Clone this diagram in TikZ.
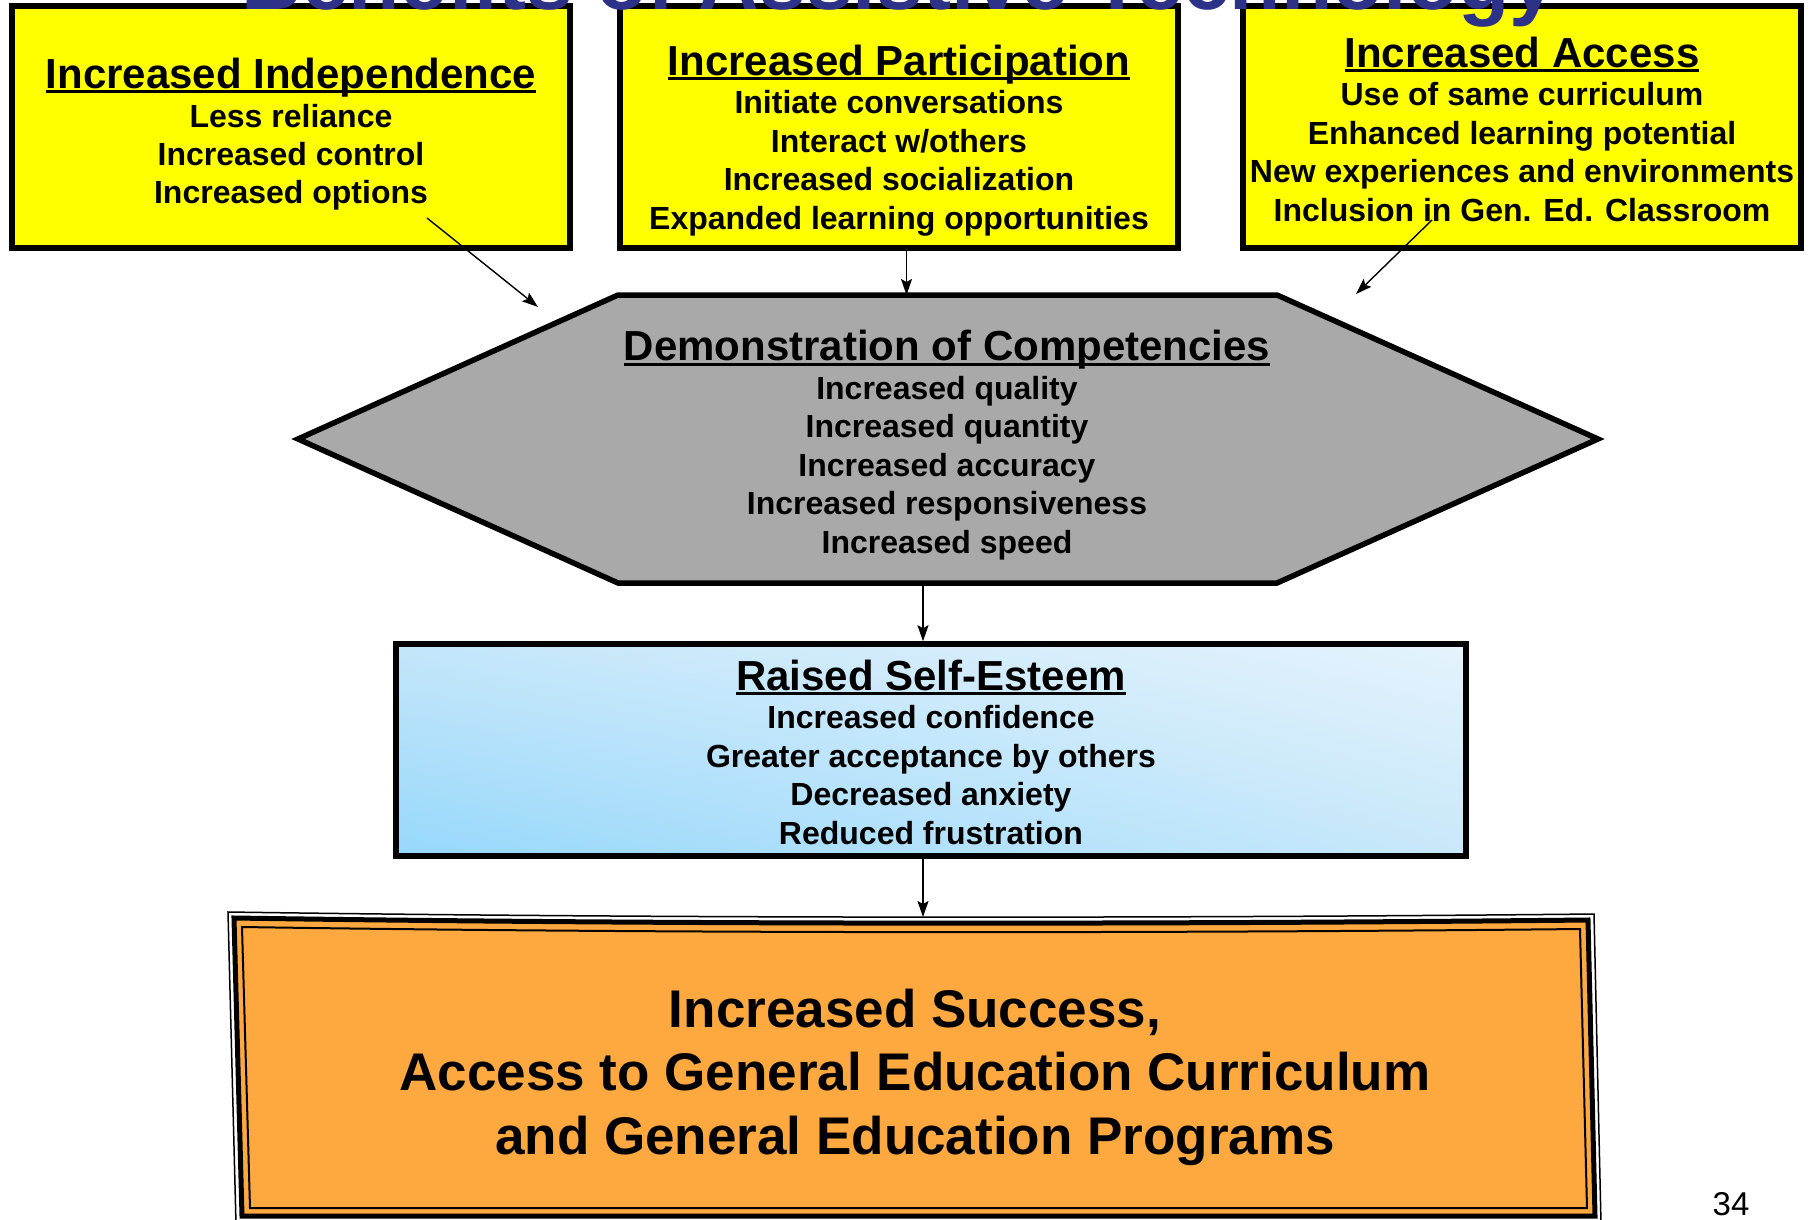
\documentclass[tikz,border=0pt]{standalone}
\usepackage{fontspec}
\setmainfont{Liberation Sans}
\usetikzlibrary{arrows.meta,shadings}
\definecolor{signyellow}{RGB}{255,255,0}
\definecolor{hexgray}{RGB}{169,169,169}
\definecolor{signorange}{RGB}{253,169,64}
\definecolor{titlenavy}{RGB}{45,49,135}
\definecolor{skyA}{RGB}{151,216,251}
\definecolor{skyB}{RGB}{196,230,250}
\definecolor{skyC}{RGB}{200,232,250}
\definecolor{skyD}{RGB}{229,243,252}
\newcommand{\headline}[1]{{\fontsize{42}{40}\selectfont\setbox0\hbox{#1}\rlap{\rule[-5pt]{\wd0}{3pt}}\box0}}
\tikzset{
  benefit/.style={draw, line width=5.5pt, fill=signyellow, minimum width=558pt, minimum height=242pt},
  blurb/.style={align=center, anchor=base, font=\bfseries\fontsize{32}{38.5}\selectfont},
  arr/.style={line width=1.4pt, -{Stealth[length=16pt,width=11pt,inset=3pt]}}
}
\begin{document}
\begin{tikzpicture}[x=1pt,y=-1pt]
  \useasboundingbox (0,0) rectangle (1813,1220);
  % three benefits (text placed by its last line)
  \node[benefit] (indepbox) at (291,127) {};
  \node[benefit] (partbox) at (899,127) {};
  \node[benefit] (accessbox) at (1522,127) {};
  \node[blurb] (indep) at (291,204) {\headline{Increased Independence}\\Less reliance\\Increased control\\Increased options};
  \node[blurb] (part) at (899,229) {\headline{Increased Participation}\\Initiate conversations\\Interact w/others\\Increased socialization\\Expanded learning opportunities};
  \node[blurb] (access) at (1522,221) {\headline{Increased Access}\\Use of same curriculum\\Enhanced learning potential\\New experiences and environments\\Inclusion in Gen. Ed. Classroom};
  % competencies
  \node[minimum width=659pt, minimum height=288pt, inner sep=0pt, outer sep=0pt] (comp) at (947.5,439) {};
  \draw[line width=5.5pt, fill=hexgray] (comp.north west) -- (comp.north east) -- ([xshift=321pt]comp.east) -- (comp.south east) -- (comp.south west) -- ([xshift=-320pt]comp.west) -- cycle;
  \node[blurb] (comptext) at (947,553) {\headline{Demonstration of Competencies}\\Increased quality\\Increased quantity\\Increased accuracy\\Increased responsiveness\\Increased speed};
  % self-esteem
  \node[draw, line width=5.5pt, minimum width=1070pt, minimum height=212pt, lower left=skyA, upper left=skyB, lower right=skyC, upper right=skyD] (esteem) at (931,750) {};
  \node[blurb] (esteemtext) at (931,844) {\headline{Raised Self-Esteem}\\Increased confidence\\Greater acceptance by others\\Decreased anxiety\\Reduced frustration};
  % success sign
  \draw[line width=1.5pt] (228,912) .. controls (700,919) and (1200,918) .. (1594,914) -- (1601,1224) -- (236,1224) -- cycle;
  \draw[line width=5pt, fill=signorange] (234,918) .. controls (700,925) and (1200,924) .. (1588,920) -- (1595,1216) -- (242,1216) -- cycle;
  \draw[line width=2pt] (242,927) .. controls (700,934) and (1200,933) .. (1580,929) -- (1587,1208) -- (250,1208) -- cycle;
  \node[anchor=base, align=center, font=\bfseries\fontsize{53}{63.5}\selectfont] (success) at (915,1154) {Increased Success,\\Access to General Education Curriculum\\and General Education Programs};
  % arrows
  \coordinate (indepfoot) at (427,218);
  \coordinate (indeptip) at (538,307);
  \coordinate (accessfoot) at (1432,220);
  \coordinate (accesstip) at (1356,294);
  \coordinate (signtop) at (923,917);
  \draw[arr] (indepfoot) -- (indeptip);
  \draw[arr] ([xshift=7.5pt]partbox.south) -- ([xshift=-41pt]comp.north);
  \draw[arr] (accessfoot) -- (accesstip);
  \draw[arr] ([xshift=-24.5pt]comp.south) -- ([xshift=-8pt]esteem.north);
  \draw[arr] ([xshift=-8pt]esteem.south) -- (signtop);
  % title and page number
  \node[anchor=base, text=titlenavy, font=\bfseries\fontsize{84}{90}\selectfont] (title) at (899,10) {Benefits of Assistive Technology};
  \node[anchor=base, font=\fontsize{33}{36}\selectfont] (pagenum) at (1731,1215) {34};
\end{tikzpicture}
\end{document}
